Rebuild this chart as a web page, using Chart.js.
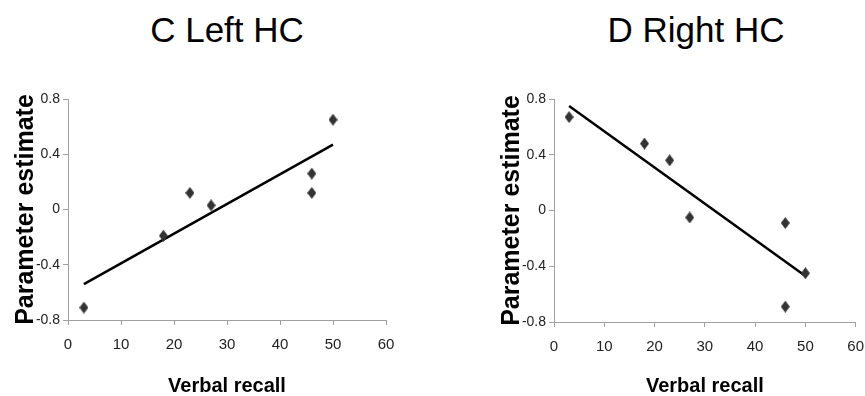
<!DOCTYPE html>
<html lang="en">
<head>
<meta charset="UTF-8">
<title>Verbal recall x Parameter estimate</title>
<script src="https://cdn.jsdelivr.net/npm/chart.js@4"></script>
<style>
    body { margin: 0; width: 865px; height: 396px; overflow: hidden; background: #fff; position: relative; }
    .painel { position: absolute; top: 0; }
    .titulo {
        position: absolute; top: 9px; transform: translateX(-50%);
        font: 35px 'Liberation Sans', Arial, sans-serif; line-height: 42px;
        color: #000; white-space: nowrap;
    }
</style>
</head>
<body>

<!-- titulos -->
<div class="titulo" style="left:227px">C Left HC</div>
<div class="titulo" style="left:696px">D Right HC</div>

<!-- graficos -->
<canvas id="graficoEsq" class="painel" style="left:0px" width="430" height="396"></canvas>
<canvas id="graficoDir" class="painel" style="left:486px" width="389" height="396"></canvas>

<script>
    // dados
    const recallX = [3, 18, 23, 27, 46, 46, 50];
    const leftEstimate = [-0.71, -0.19, 0.12, 0.03, 0.26, 0.12, 0.65];
    const rightEstimate = [0.67, 0.48, 0.36, -0.05, -0.09, -0.69, -0.45];

    const trendX = [3, 50];
    const leftTrend = [-0.54, 0.47];
    const rightTrend = [0.75, -0.47];

    const xTicks = [0, 10, 20, 30, 40, 50, 60];
    const yTicks = [-0.8, -0.4, 0, 0.4, 0.8];
    const yTickLabels = ['-0.8', '-0.4', '0', '0.4', '0.8'];

    const fonte = "'Liberation Sans', Arial, sans-serif";

    // losango um pouco mais alto que largo
    function losango(w, h, cor) {
        const c = document.createElement('canvas');
        c.width = w;
        c.height = h;
        const g = c.getContext('2d');
        g.fillStyle = cor;
        g.beginPath();
        g.moveTo(w / 2, 0);
        g.lineTo(w, h / 2);
        g.lineTo(w / 2, h);
        g.lineTo(0, h / 2);
        g.closePath();
        g.fill();
        return c;
    }
    const diamante = losango(9, 12, '#333333');

    function grafico(id, estimativas, tendencia, alturaX, padDireita) {
        const ctx = document.getElementById(id).getContext('2d');
        return new Chart(ctx, {
            type: 'scatter',
            data: {
                datasets: [{
                    label: 'Parameter estimate',
                    data: recallX.map((x, i) => ({ x: x, y: estimativas[i] })),
                    pointStyle: diamante,
                    pointRadius: 6,
                    backgroundColor: '#333333',
                    borderColor: '#333333'
                }, {
                    label: 'Trend',
                    data: trendX.map((x, i) => ({ x: x, y: tendencia[i] })),
                    showLine: true,
                    pointRadius: 0,
                    borderColor: '#000000',
                    borderWidth: 2.5,
                    fill: false
                }]
            },
            options: {
                responsive: false,
                animation: false,
                devicePixelRatio: 1,
                layout: { padding: { top: 99, right: padDireita, left: 0, bottom: 0 } },
                plugins: {
                    legend: { display: false },
                    tooltip: { enabled: false },
                    title: { display: false }
                },
                scales: {
                    x: {
                        type: 'linear',
                        min: 0,
                        max: 60,
                        afterBuildTicks: s => { s.ticks = xTicks.map(v => ({ value: v })); },
                        afterFit: s => { s.height = alturaX; },
                        grid: { drawOnChartArea: false, tickLength: 5, color: '#a0a0a0' },
                        border: { color: '#a0a0a0', width: 1 },
                        ticks: { padding: 11, color: '#222', maxRotation: 0, font: { family: fonte, size: 15 } },
                        title: {
                            display: true,
                            text: 'Verbal recall',
                            color: '#000',
                            padding: 0,
                            font: { family: fonte, size: 20, weight: 'bold', lineHeight: 1 }
                        }
                    },
                    y: {
                        min: -0.8,
                        max: 0.8,
                        afterBuildTicks: s => { s.ticks = yTicks.map(v => ({ value: v })); },
                        afterFit: s => { s.width = 68; },
                        grid: { drawOnChartArea: false, tickLength: 5, color: '#a0a0a0' },
                        border: { color: '#a0a0a0', width: 1 },
                        ticks: {
                            padding: 3,
                            color: '#222',
                            font: { family: fonte, size: 14 },
                            callback: v => yTickLabels[yTicks.indexOf(Math.round(v * 10) / 10)]
                        },
                        title: {
                            display: true,
                            text: 'Parameter estimate',
                            color: '#000',
                            padding: { top: 11, bottom: 0 },
                            font: { family: fonte, size: 25, weight: 'bold', lineHeight: 1.2 }
                        }
                    }
                }
            }
        });
    }

    grafico('graficoEsq', leftEstimate, leftTrend, 76, 44);
    grafico('graficoDir', rightEstimate, rightTrend, 74, 15);
</script>
</body>
</html>
